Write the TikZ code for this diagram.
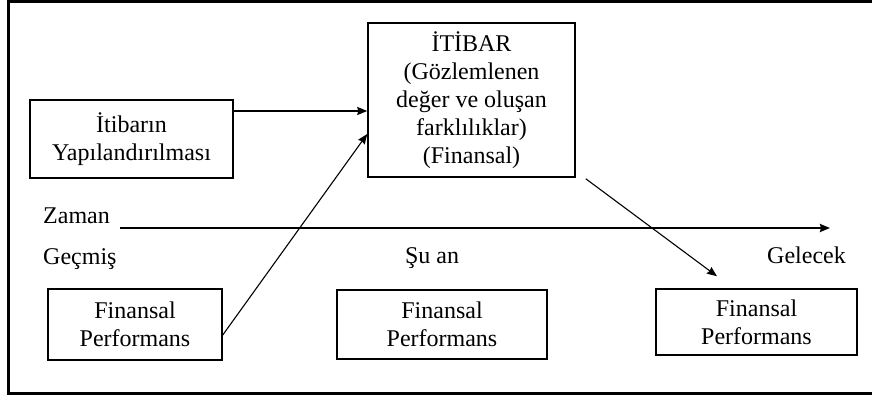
\documentclass[tikz,border=0pt]{standalone}
\usepackage{fontspec}
\setmainfont{Liberation Serif}
\usetikzlibrary{arrows.meta}
\begin{document}
\begin{tikzpicture}[x=1pt,y=-1pt,
  txt/.style={font=\fontsize{24}{28}\selectfont, inner sep=0pt},
  box/.style={draw, line width=1.5pt, align=center, inner sep=0pt,
    font=\fontsize{24}{28}\selectfont},
  tip/.style={-{Stealth[length=10pt,width=8pt,inset=1pt]}},
  arr/.style={tip, line width=1.1pt}]
  \useasboundingbox (0,0) rectangle (872,396);
  % outer frame (open to the right)
  \begin{scope}
    \clip (0,0) rectangle (872,396);
    \draw[line width=3pt] (8,1.5) rectangle (890,393);
  \end{scope}

  % boxes
  \node[box, minimum width=203pt, minimum height=78pt] (yap) at (131.5,139)
    {İtibarın\\Yapılandırılması};
  \node[box, minimum width=207pt, minimum height=154pt] (itibar) at (471.5,100)
    {İTİBAR\\(Gözlemlenen\\değer ve oluşan\\farklılıklar)\\(Finansal)};
  \node[box, minimum width=174pt, minimum height=71pt] (fp1) at (135,324.5)
    {Finansal\\Performans};
  \node[box, minimum width=210pt, minimum height=69pt] (fp2) at (442,324.5)
    {Finansal\\Performans};
  \node[box, minimum width=201pt, minimum height=66pt] (fp3) at (756.5,322)
    {Finansal\\Performans};

  % time axis and its labels
  \node[txt, anchor=base west] (zaman) at (43,223) {Zaman};
  \node[txt, anchor=base west] (gecmis) at (43,264) {Geçmiş};
  \node[txt, anchor=base] (suan) at (432,263) {Şu an};
  \node[txt, anchor=base east] (gelecek) at (846,263) {Gelecek};
  \coordinate (t0) at (120,228);
  \coordinate (t1) at (830,228);
  \draw[tip, line width=2pt] (t0) -- (t1);

  % connectors
  \coordinate (a1) at ([yshift=28pt]yap.east);
  \draw[arr, line width=1.6pt] (a1) -- (a1 -| itibar.west);
  \draw[arr] ([yshift=-10.5pt]fp1.east) -- ([yshift=-34pt]itibar.west);
  \draw[arr] ([shift={(10pt,-1pt)}]itibar.south east) -- ([shift={(-39.5pt,12pt)}]fp3.north);
\end{tikzpicture}
\end{document}
